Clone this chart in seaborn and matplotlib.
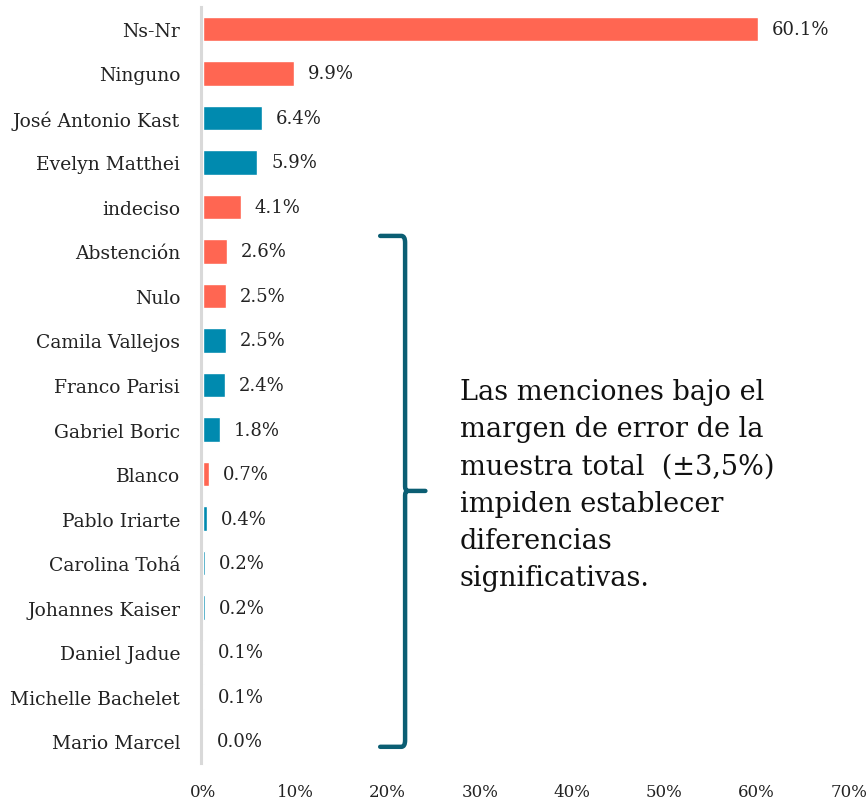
import matplotlib
matplotlib.use("Agg")
import matplotlib.pyplot as plt
import seaborn as sns
import pandas as pd
from matplotlib.path import Path
from matplotlib.patches import PathPatch

categories = ["Ns-Nr", "Ninguno", "José Antonio Kast", "Evelyn Matthei", "indeciso",
              "Abstención", "Nulo", "Camila Vallejos", "Franco Parisi", "Gabriel Boric",
              "Blanco", "Pablo Iriarte", "Carolina Tohá", "Johannes Kaiser", "Daniel Jadue",
              "Michelle Bachelet", "Mario Marcel"]
values = [60.1, 9.9, 6.4, 5.9, 4.1, 2.6, 2.5, 2.5, 2.4, 1.8, 0.7, 0.4, 0.2, 0.2, 0.1, 0.1, 0.0]
groups = ["otro", "otro", "persona", "persona", "otro", "otro", "otro", "persona", "persona",
          "persona", "otro", "persona", "persona", "persona", "persona", "persona", "persona"]
xticks = [0, 10, 20, 30, 40, 50, 60, 70]
note = ("Las menciones bajo el\nmargen de error de la\nmuestra total  (±3,5%)\n"
        "impiden establecer\ndiferencias\nsignificativas.")

CORAL = "#FF6652"
TEAL = "#008AAF"
BRACE = "#0B5E73"

sns.set_theme(style="white")
plt.rcParams["font.family"] = ["DejaVu Serif"]

df = pd.DataFrame({"categoria": categories, "valor": values, "grupo": groups})

fig = plt.figure(figsize=(8.68, 8.04), dpi=100)
ax = fig.add_axes([0.2339, 0.0494, 0.978 - 0.2339, 0.9904 - 0.0494])

sns.barplot(data=df, y="categoria", x="valor", hue="grupo",
            palette={"otro": CORAL, "persona": TEAL}, order=categories,
            width=0.56, dodge=False, legend=False, ax=ax, saturation=1)

for i, v in enumerate(values):
    ax.text(v + 1.5, i, f"{v:.1f}%", va="center", ha="left", fontsize=13, color="#222222")

ax.set_xlim(0, 70)
ax.set_xticks(xticks)
ax.set_xticklabels([f"{t}%" for t in xticks], fontsize=12, color="#222222")
ax.set_ylabel("")
ax.set_xlabel("")
ax.tick_params(axis="y", labelsize=13.5, labelcolor="#222222", length=0, pad=15)
ax.tick_params(axis="x", length=0, pad=14)
for s in ["top", "right", "bottom"]:
    ax.spines[s].set_visible(False)
ax.spines["left"].set_color("#D9D9D9")
ax.spines["left"].set_linewidth(2.2)
ax.spines["left"].set_position(("outward", 1.5))

# curly bracket grouping the small mentions
bx, tip = 21.9, 24.1
ytop, ybot, ymid = 4.65, 16.13, 10.38
verts = [(19.2, ytop), (bx - 0.4, ytop), (bx, ytop), (bx, ytop + 0.15),
         (bx, ymid - 0.1), (bx, ymid), (bx + 0.3, ymid), (tip, ymid),
         (bx + 0.3, ymid), (bx, ymid), (bx, ymid + 0.1),
         (bx, ybot - 0.15), (bx, ybot), (bx - 0.4, ybot), (19.2, ybot)]
codes = [Path.MOVETO, Path.LINETO, Path.CURVE3, Path.CURVE3,
         Path.LINETO, Path.CURVE3, Path.CURVE3, Path.LINETO,
         Path.MOVETO, Path.CURVE3, Path.CURVE3,
         Path.LINETO, Path.CURVE3, Path.CURVE3, Path.LINETO]
ax.add_patch(PathPatch(Path(verts, codes), fill=False, edgecolor=BRACE, lw=3.2,
                       capstyle="round", joinstyle="round", clip_on=False))

ax.text(27.8, 7.85, note, ha="left", va="top", fontsize=19.5, color="#111111",
        linespacing=1.48)

fig.savefig("out.png", dpi=100)
